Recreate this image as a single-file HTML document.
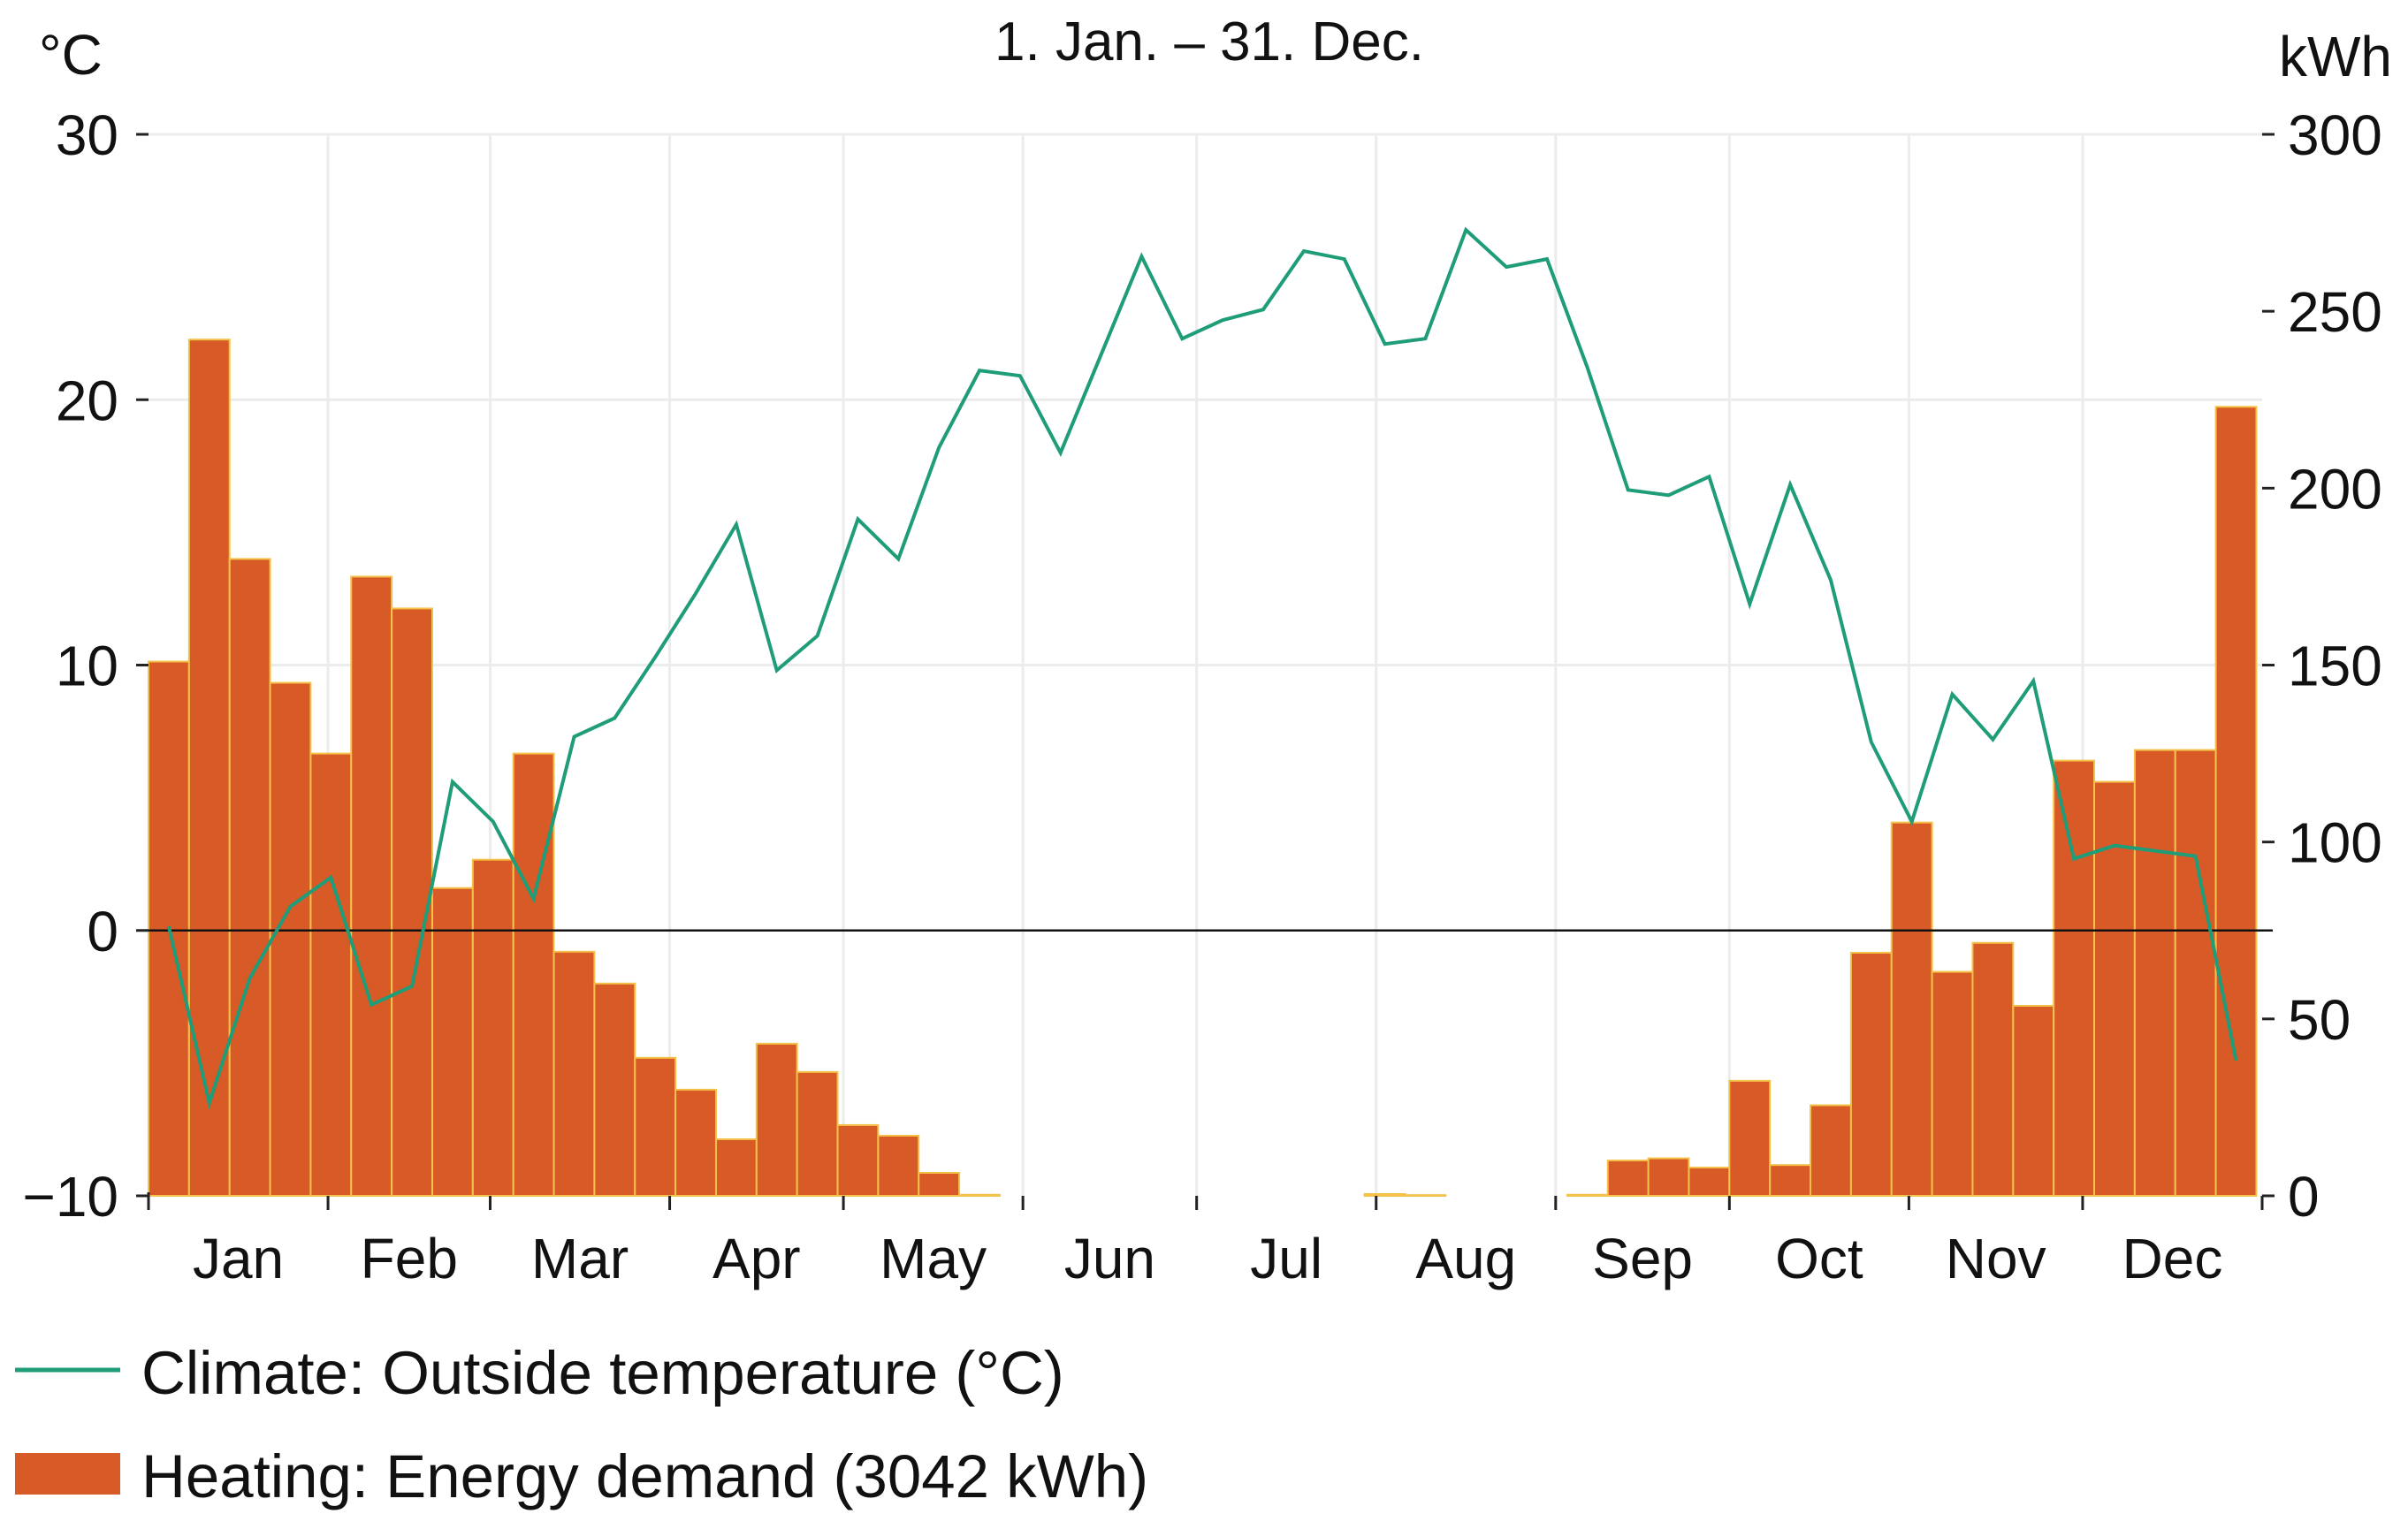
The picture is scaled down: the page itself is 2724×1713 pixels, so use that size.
<!DOCTYPE html>
<html><head><meta charset="utf-8">
<style>
html,body{margin:0;padding:0;background:#fff;}
svg{display:block;font-family:"Liberation Sans",sans-serif;}
</style></head>
<body>
<svg id="chart" width="2724" height="1713" viewBox="0 0 2724 1713" xmlns="http://www.w3.org/2000/svg">
<text x="1368" y="68" font-size="62" text-anchor="middle" fill="#111">1. Jan. – 31. Dec.</text>
<text x="44" y="84" font-size="64" fill="#111">°C</text>
<text x="2578" y="86" font-size="64" fill="#111">kWh</text>
<g id="grid"></g><g id="bars"></g><g id="zero"></g><g id="line"></g><g id="axes"></g>
<line x1="17" y1="1550" x2="136" y2="1550" stroke="#1f9c78" stroke-width="5"/>
<text x="160" y="1577" font-size="69" fill="#111">Climate: Outside temperature (°C)</text>
<rect x="17" y="1644" width="119" height="47" fill="#d85a26"/>
<text x="160" y="1694" font-size="69" fill="#111">Heating: Energy demand (3042 kWh)</text>
</svg>
<script>
const months = ["Jan","Feb","Mar","Apr","May","Jun","Jul","Aug","Sep","Oct","Nov","Dec"];
const monthDays = [31,28,31,30,31,30,31,31,30,31,30,31];
const tempTicks = [30,20,10,0,-10];
const kwhTicks = [300,250,200,150,100,50,0];
const temperature = [0.15,-6.5,-1.8,0.9,2.0,-2.8,-2.1,5.6,4.1,1.2,7.3,8.0,10.3,12.7,15.3,9.8,11.1,15.5,14.0,18.2,21.1,20.9,18.0,21.7,25.4,22.3,23.0,23.4,25.6,25.3,22.1,22.3,26.4,25.0,25.3,21.2,16.6,16.4,17.1,12.3,16.8,13.2,7.1,4.1,8.9,7.2,9.4,2.7,3.2,3.0,2.8,-4.9];
const heating = [151,242,180,145,125,175,166,87,95,125,69,60,39,30,16,43,35,20,17,6.5,0.3,0,0,0,0,0,0,0,0,0,0.5,0.2,0,0,0,0.3,10,10.6,8,32.5,8.7,25.6,68.7,105.5,63.3,71.5,53.7,123,117,126,126,223];

const NS="http://www.w3.org/2000/svg";
const L=168,R=2559,T=152,B=1353;
const dayW=(R-L)/365;
const xDay=d=>L+d*dayW;
const yT=t=>B-(t+10)/40*(B-T);
const yK=k=>B-k/300*(B-T);
function mk(tag,attrs,parent){const e=document.createElementNS(NS,tag);for(const k in attrs)e.setAttribute(k,attrs[k]);parent.appendChild(e);return e;}
const grid=document.getElementById('grid'),bars=document.getElementById('bars'),zero=document.getElementById('zero'),lineG=document.getElementById('line'),axes=document.getElementById('axes');

tempTicks.forEach(t=>{
  if(t===-10||t===0)return;
  const g=mk('line',{x1:L,x2:R,y1:yT(t),y2:yT(t),stroke:'#ececec','stroke-width':3},grid);
  
  
});
let cum=0;
const bounds=[0];
monthDays.forEach(d=>{cum+=d;bounds.push(cum);});
bounds.forEach((d,i)=>{
  if(i>0&&i<12){
    const g=mk('line',{x1:xDay(d),x2:xDay(d),y1:T,y2:B,stroke:'#ececec','stroke-width':3},grid);
    
    
  }
  const tk=mk('line',{x1:xDay(d),x2:xDay(d),y1:B,y2:B+16,stroke:'#222','stroke-width':3},axes);
  
  
});
months.forEach((m,i)=>{
  const cx=xDay((bounds[i]+bounds[i+1])/2);
  const t=mk('text',{x:cx,y:1446,'font-size':64,'text-anchor':'middle',fill:'#111'},axes);
  t.textContent=m;
  
  
});
const bw=7*dayW;
heating.forEach((v,i)=>{
  if(v<=0)return;
  const r=mk('rect',{x:L+i*bw,y:yK(v),width:bw,height:B-yK(v),fill:'#d85a26',stroke:'#f4c24a','stroke-width':2},bars);
  
  
});
const z=mk('line',{x1:L,x2:R+12,y1:yT(0),y2:yT(0),stroke:'#111','stroke-width':2.5},zero);


const pts=temperature.map((t,i)=>(L+(i+0.5)*bw).toFixed(1)+','+yT(t).toFixed(1)).join(' ');
const pl=mk('polyline',{points:pts,fill:'none',stroke:'#1f9c78','stroke-width':4,'stroke-linejoin':'miter'},lineG);


tempTicks.forEach(t=>{
  const tk=mk('line',{x1:L-14,x2:L,y1:yT(t),y2:yT(t),stroke:'#222','stroke-width':3},axes);
  
  
  const tx=mk('text',{x:134,y:yT(t)+23,'font-size':64,'text-anchor':'end',fill:'#111'},axes);
  tx.textContent=t<0?'−'+Math.abs(t):String(t);
  
  
});
kwhTicks.forEach(k=>{
  const tk=mk('line',{x1:R,x2:R+14,y1:yK(k),y2:yK(k),stroke:'#222','stroke-width':3},axes);
  
  
  const tx=mk('text',{x:2588,y:yK(k)+23,'font-size':64,fill:'#111'},axes);
  tx.textContent=String(k);
  
  
});
const bl=mk('line',{x1:L,x2:L,y1:B-4,y2:B+16,stroke:'#222','stroke-width':3},axes);


</script>
</body></html>
